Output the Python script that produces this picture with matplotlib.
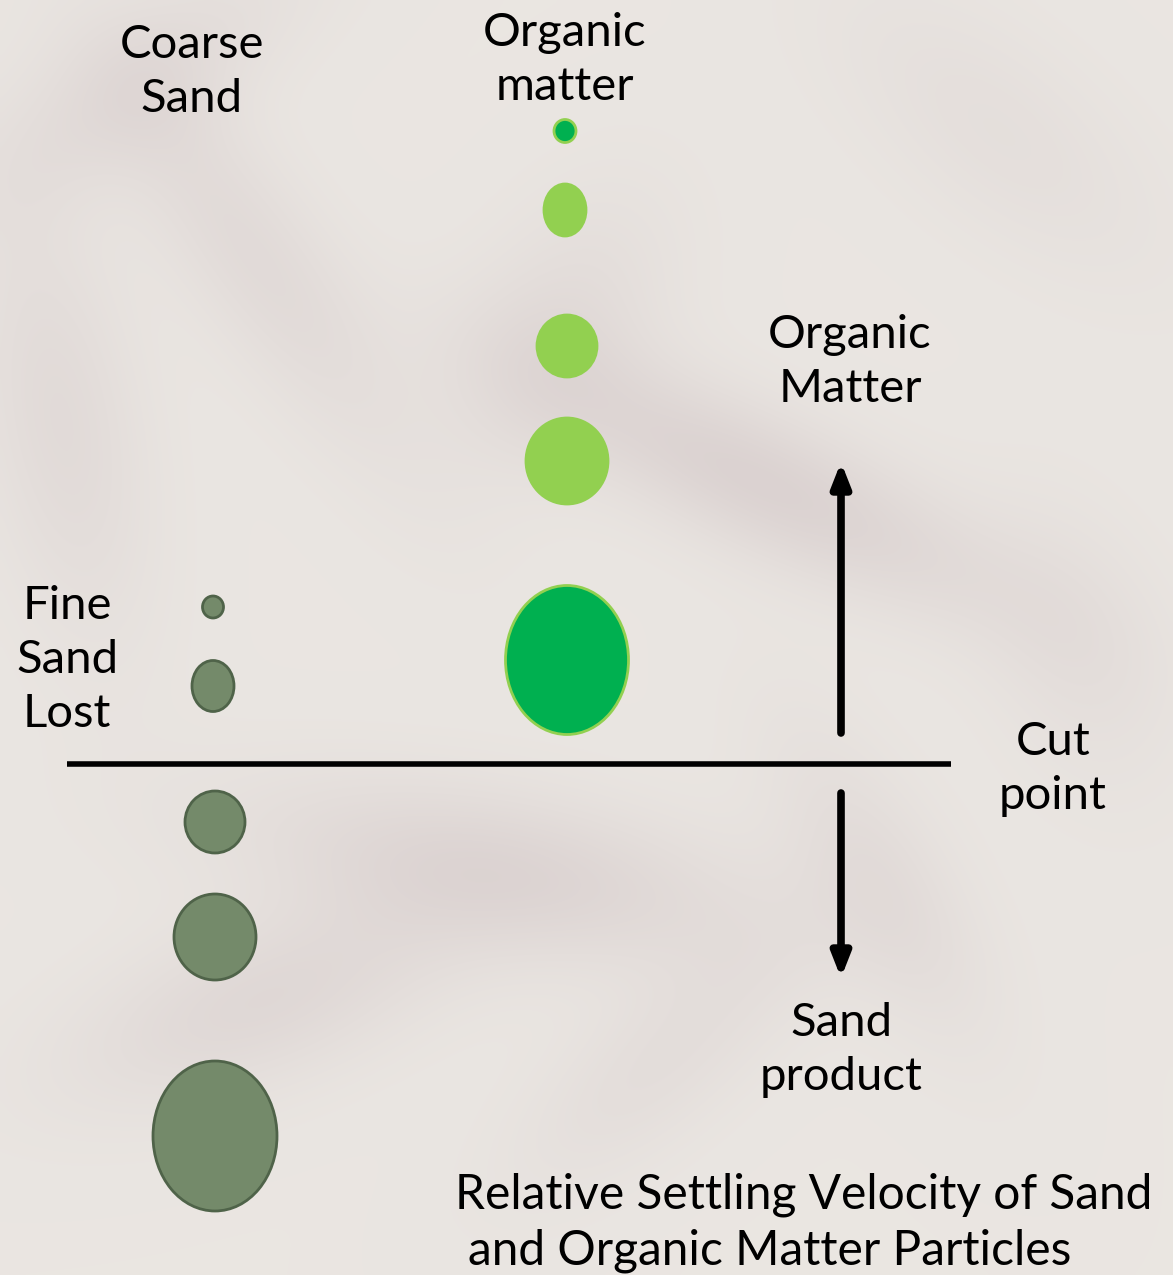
import numpy as np
import matplotlib.pyplot as plt
from matplotlib.patches import Ellipse

plt.rcParams['font.family'] = ['Lato', 'DejaVu Sans']

W, H = 1173, 1275

# particle sizes (width, height) and vertical positions, in picture pixels
organic_y = [131, 210, 346, 461, 660]
organic_w = [22, 42, 60, 82, 123]
organic_h = [23, 52, 62, 86, 149]
organic_fill = ['#00B050', '#92D050', '#92D050', '#92D050', '#00B050']
organic_x = [565, 565, 567, 567, 567]

sand_y = [607, 686, 822, 937, 1136]
sand_w = [21, 42, 60, 82, 124]
sand_h = [22, 51, 62, 86, 150]
sand_x = [213, 213, 215, 215, 215]

cut_y = 764

fig = plt.figure(figsize=(W / 100, H / 100), dpi=100)
ax = fig.add_axes([0, 0, 1, 1])
ax.set_xlim(0, W)
ax.set_ylim(H, 0)
ax.axis('off')

# soft blurred leaf-like background
yy, xx = np.mgrid[0:H:4, 0:W:4]
shade = np.zeros_like(xx, dtype=float)
blobs = [  # cx, cy, long, short, angle(deg), strength
    (760, 480, 260, 70, 25, 0.7),
    (560, 330, 150, 90, -60, 0.35),
    (250, 250, 250, 70, 55, 0.4),
    (60, 420, 220, 80, 80, 0.4),
    (500, 870, 260, 80, 10, 0.6),
    (260, 1000, 200, 80, -20, 0.5),
    (880, 880, 180, 70, 60, 0.35),
    (140, 80, 200, 70, -35, 0.35),
    (1000, 130, 200, 90, 40, 0.25),
    (660, 1060, 180, 70, -40, 0.3),
    (1080, 650, 150, 90, 70, 0.25),
]
for cx, cy, a, b, ang, s in blobs:
    t = np.deg2rad(ang)
    dx, dy = xx - cx, yy - cy
    u = dx * np.cos(t) + dy * np.sin(t)
    v = -dx * np.sin(t) + dy * np.cos(t)
    shade += s * np.exp(-(u / a) ** 2 - (v / b) ** 2)
shade = np.clip(shade, 0, 1)
base = np.array([0.918, 0.902, 0.886])
dark = np.array([0.835, 0.792, 0.792])
img = base[None, None, :] * (1 - shade[..., None]) + dark[None, None, :] * shade[..., None]
ax.imshow(img, extent=(0, W, H, 0), aspect='auto', zorder=0, interpolation='bicubic')

for x, y, w, h, c in zip(organic_x, organic_y, organic_w, organic_h, organic_fill):
    ax.add_patch(Ellipse((x, y), w, h, facecolor=c, edgecolor='#92D050', lw=2, zorder=3))

for x, y, w, h in zip(sand_x, sand_y, sand_w, sand_h):
    ax.add_patch(Ellipse((x, y), w, h, facecolor='#748A6A', edgecolor='#4F6349', lw=2, zorder=3))

# cut line
ax.plot([67, 951], [cut_y, cut_y], color='black', lw=4, solid_capstyle='butt', zorder=4)

# arrows
ax.annotate('', xy=(841, 462), xytext=(841, 733),
            arrowprops=dict(arrowstyle='-|>,head_length=1.4,head_width=0.55', lw=5.5,
                            color='black', shrinkA=0, shrinkB=0), zorder=4)
ax.annotate('', xy=(841, 978), xytext=(841, 793),
            arrowprops=dict(arrowstyle='-|>,head_length=1.4,head_width=0.55', lw=5.5,
                            color='black', shrinkA=0, shrinkB=0), zorder=4)

fs = 34
ls = 1.36
ax.text(192, 72, 'Coarse\nSand', fontsize=fs, ha='center', va='center', linespacing=ls)
ax.text(565, 60, 'Organic\nmatter', fontsize=fs, ha='center', va='center', linespacing=ls)
ax.text(850, 362, 'Organic\nMatter', fontsize=fs, ha='center', va='center', linespacing=ls)
ax.text(67, 660, 'Fine\nSand\nLost', fontsize=fs, ha='center', va='center', linespacing=ls)
ax.text(1053, 769, 'Cut\npoint', fontsize=fs, ha='center', va='center', linespacing=ls)
ax.text(841, 1050, 'Sand\nproduct', fontsize=fs, ha='center', va='center', linespacing=ls)

ax.text(455, 1195, 'Relative Settling Velocity of Sand', fontsize=34.5, ha='left', va='center')
ax.text(468, 1251, 'and Organic Matter Particles', fontsize=34.5, ha='left', va='center')

fig.savefig('out.png', dpi=100)
